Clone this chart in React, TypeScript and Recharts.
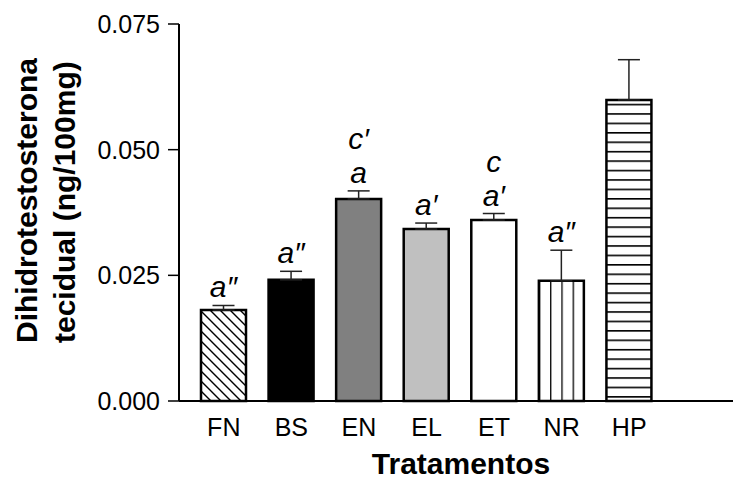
import React from 'react';
import { ComposedChart, Bar, Cell, XAxis, YAxis, ErrorBar, Label } from 'recharts';

const categories = ['FN', 'BS', 'EN', 'EL', 'ET', 'NR', 'HP'];
const means = [0.0181, 0.0241, 0.0402, 0.0342, 0.036, 0.0239, 0.0599];
const sem = [0.0009, 0.0017, 0.0016, 0.0012, 0.0013, 0.0061, 0.008];
const letters = ['a\u2033', 'a\u2033', 'a', 'a\u2032', 'a\u2032', 'a\u2033', ''];
const lettersTop = ['', '', 'c\u2032', '', 'c', '', ''];
const yTicks = [0, 0.025, 0.05, 0.075];

const barFills = ['url(#diag)', '#000000', '#808080', '#c0c0c0', '#ffffff', 'url(#vert)', 'url(#horiz)'];

const FONT = '"Liberation Sans", Arial, Helvetica, sans-serif';

const data = categories.map((name, i) => ({
  name,
  mean: means[i],
  err: [0, sem[i]],
}));

// letters sit just above the whisker of each bar
const renderLetters = (props: any) => {
  const { x, y, width, height, index } = props;
  const i = index as number;
  if (!letters[i]) return null;
  const pxPerUnit = height / means[i];
  const whiskerTop = y - sem[i] * pxPerUnit;
  const cx = x + width / 2;
  const base = whiskerTop - 8;
  return (
    <g>
      <text x={cx} y={base} textAnchor="middle" fontFamily={FONT} fontStyle="italic" fontSize={30} fill="#000">
        {letters[i]}
      </text>
      {lettersTop[i] && (
        <text x={cx} y={base - 34} textAnchor="middle" fontFamily={FONT} fontStyle="italic" fontSize={30} fill="#000">
          {lettersTop[i]}
        </text>
      )}
    </g>
  );
};

const YTitle = () => (
  <g fontFamily={FONT} fontWeight="bold" fontSize={30} fill="#000">
    <text x={37} y={343} transform="rotate(-90, 37, 343)" textAnchor="start">
      Dihidrotestosterona
    </text>
    <text x={75} y={343} transform="rotate(-90, 75, 343)" textAnchor="start">
      tecidual (ng/100mg)
    </text>
  </g>
);

const XTitle = () => (
  <text x={461} y={474} textAnchor="middle" fontFamily={FONT} fontWeight="bold" fontSize={30} fill="#000">
    Tratamentos
  </text>
);

export default function App() {
  return (
    <div style={{ position: 'absolute', left: 0, top: 0, background: '#fff' }}>
      <ComposedChart width={734} height={479} data={data} margin={{ top: 24, right: 1, bottom: 0, left: 0 }}>
        <defs>
          <pattern id="diag" patternUnits="userSpaceOnUse" width={10} height={10}>
            <rect width={10} height={10} fill="#fff" />
            <path d="M-1,-1 L11,11 M-1,9 L1,11 M9,-1 L11,1" stroke="#000" strokeWidth={1.4} />
          </pattern>
          <pattern id="vert" patternUnits="objectBoundingBox" width={0.25} height={1}>
            <rect width={100} height={1000} fill="#fff" />
            <rect x={0} y={0} width={1.3} height={1000} fill="#000" />
          </pattern>
          <pattern id="horiz" patternUnits="userSpaceOnUse" width={10} height={9.43}>
            <rect width={10} height={9.43} fill="#fff" />
            <rect x={0} y={0} width={10} height={1.6} fill="#000" />
          </pattern>
        </defs>
        <XAxis
          dataKey="name"
          type="category"
          height={78}
          padding={{ left: 11, right: 70 }}
          axisLine={{ stroke: '#000', strokeWidth: 2 }}
          tickLine={false}
          tickSize={8}
          tickMargin={9}
          tick={{ fill: '#000', fontSize: 25, fontFamily: FONT }}
        >
          <Label content={<XTitle />} />
        </XAxis>
        <YAxis
          width={179}
          domain={[0, 0.075]}
          ticks={yTicks}
          tickFormatter={(v: number) => v.toFixed(3)}
          axisLine={{ stroke: '#000', strokeWidth: 2 }}
          tickLine={{ stroke: '#000', strokeWidth: 1.5 }}
          tickSize={11}
          tickMargin={8}
          tick={{ fill: '#000', fontSize: 25, fontFamily: FONT }}
        >
          <Label content={<YTitle />} />
        </YAxis>
        <Bar dataKey="mean" barSize={45} stroke="#000" strokeWidth={2.5} isAnimationActive={false} label={renderLetters}>
          {data.map((d, i) => (
            <Cell key={d.name} fill={barFills[i]} />
          ))}
          <ErrorBar dataKey="err" width={11} stroke="#222" strokeWidth={1.5} direction="y" />
        </Bar>
      </ComposedChart>
    </div>
  );
}
